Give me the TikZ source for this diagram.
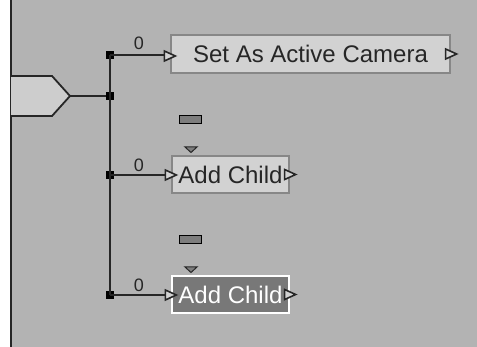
\documentclass[tikz,border=0pt]{standalone}
\usepackage{fontspec}
\setmainfont{Liberation Sans}
\definecolor{bg}{RGB}{179,179,179}
\definecolor{boxfill}{RGB}{210,210,210}
\definecolor{boxedge}{RGB}{135,135,135}
\definecolor{pentfill}{RGB}{205,205,205}
\definecolor{selfill}{RGB}{120,120,120}
\definecolor{tabfill}{RGB}{125,125,125}
\begin{document}
\begin{tikzpicture}[x=1pt,y=-1pt,
  wire/.style={line width=1.8pt, draw=black!85},
  opbox/.style={draw=boxedge, fill=boxfill, line width=1.3pt, inner sep=0pt, minimum height=38pt, font=\fontsize{24}{24}\selectfont, text=black!85},
  selbox/.style={opbox, draw=white, fill=selfill, text=white},
  junc/.style={fill=black, draw=none, minimum size=8pt, inner sep=0pt},
  zlab/.style={font=\fontsize{18}{18}\selectfont, text=black!85, inner sep=0pt},
  tab/.style={draw=black, fill=tabfill, line width=1pt, minimum width=22pt, minimum height=8pt, inner sep=0pt},
  port/.style={draw=black!85, fill=boxfill, line width=1.6pt, line join=miter}
]
\useasboundingbox (0,0) rectangle (477,347);
\fill[bg] (0,0) rectangle (477,347);
\fill[white] (0,0) rectangle (10,347);
\draw[line width=2pt, black!85] (11,0) -- (11,347);

% pentagon
\draw[line width=1.8pt, draw=black!85, fill=pentfill] (11,76) -- (52,76) -- (70,96) -- (52,116) -- (11,116);
\coordinate (tip) at (70,96);

% nodes
\node[opbox, minimum width=279pt] (cam) at (310.5,54) {Set As Active Camera};
\node[opbox, minimum width=117pt, minimum height=37pt] (add1) at (230.5,174.5) {Add Child};
\node[selbox, minimum width=117pt, minimum height=37pt] (add2) at (230.5,294.5) {Add Child};

\node[junc] (j0) at (110,96) {};
\node[junc] (j1) at (110,55) {};
\node[junc] (j2) at (110,175) {};
\node[junc] (j3) at (110,295) {};

\draw[wire] (tip) -- (j0);
\draw[wire] (j1.center) -- (j3.center);
\draw[wire] (j1.center) -- ([xshift=-6pt]cam.west |- j1);
\draw[wire] (j2.center) -- ([xshift=-6pt]add1.west |- j2);
\draw[wire] (j3.center) -- ([xshift=-6pt]add2.west |- j3);

% input ports
\foreach \n/\y in {cam/56, add1/175, add2/295}{
  \draw[port] ([xshift=-6pt]\n.west |- 0,\y) ++(0,-5) -- ++(0,10) -- ++(11,-5) -- cycle;
}
% output ports
\foreach \n in {cam, add1, add2}{
  \draw[port] ([xshift=-5pt]\n.east) ++(0,-5) -- ++(0,10) -- ++(11,-5) -- cycle;
}

% labels
\node[zlab] (z1) at (139,43) {0};
\node[zlab] (z2) at (139,165) {0};
\node[zlab] (z3) at (139,285) {0};

% tabs and down markers
\node[tab] (t1) at (190.5,119.5) {};
\node[tab] (t2) at (190.5,239.5) {};
\draw[draw=black!85, fill=tabfill, line width=1pt] (185,147) -- (197,147) -- (191,152.5) -- cycle;
\draw[draw=black!85, fill=tabfill, line width=1pt] (185,267) -- (197,267) -- (191,272.5) -- cycle;
\end{tikzpicture}
\end{document}
